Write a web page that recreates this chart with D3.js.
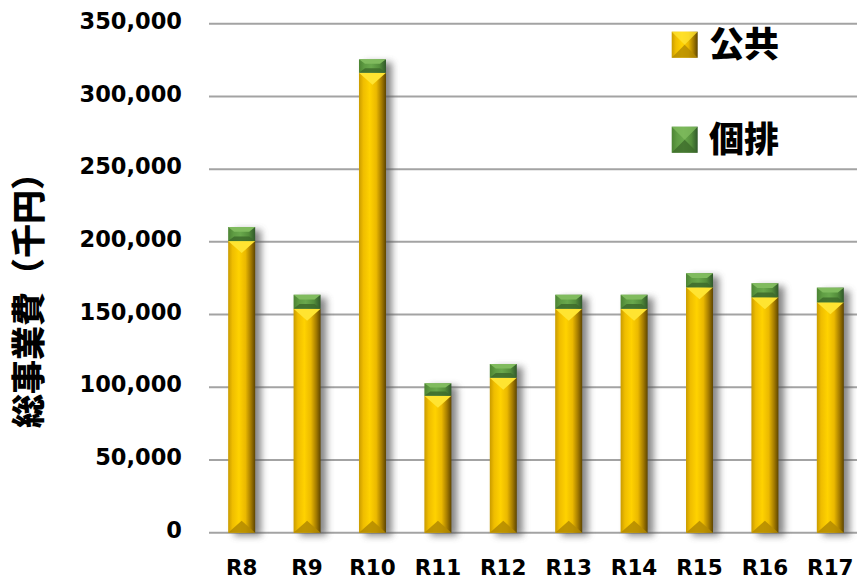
<!DOCTYPE html>
<html>
<head>
<meta charset="utf-8">
<script src="https://cdn.jsdelivr.net/npm/d3@7"></script>
<style>
  html, body { margin: 0; padding: 0; background: #fff; }
  svg { display: block; }
</style>
</head>
<body>
<svg id="chart" width="857" height="585"></svg>
<script>
// Fiscal years (Reiwa)
const years = ["R8", "R9", "R10", "R11", "R12", "R13", "R14", "R15", "R16", "R17"];
// 公共 (public works) and 個排 (individual septic) totals, thousand yen
const koukyou = [200500, 154000, 316300, 94200, 106600, 154000, 154000, 168700, 161900, 158400];
const kohai   = [9700, 9600, 9200, 8500, 9400, 9600, 9600, 9700, 9600, 10100];
const yTicks = [0, 50000, 100000, 150000, 200000, 250000, 300000, 350000];
const seriesNames = ["公共", "個排"];
const yTitle = "総事業費（千円）";

const svg = d3.select("#chart");
const W = 857, H = 585;
const plot = { left: 209, right: 863, top: 23.7, bottom: 532.7 };

const x = d3.scaleBand().domain(years).range([plot.left, plot.right]).paddingInner(0.587).paddingOuter(0.293);
const y = d3.scaleLinear().domain([0, 350000]).range([plot.bottom, plot.top]);

const defs = svg.append("defs");

function hGrad(id, stops) {
  const g = defs.append("linearGradient").attr("id", id)
    .attr("x1", "0%").attr("x2", "100%").attr("y1", "0%").attr("y2", "0%");
  stops.forEach(([o, c]) => g.append("stop").attr("offset", o).attr("stop-color", c));
}
hGrad("gold", [["0%", "#c99b00"], ["16%", "#efbd00"], ["40%", "#ffd200"], ["64%", "#ebb900"], ["84%", "#a47b00"], ["100%", "#5e4500"]]);
hGrad("green", [["0%", "#4c8433"], ["20%", "#5f9c43"], ["45%", "#69a84c"], ["75%", "#558f3c"], ["100%", "#30582a"]]);

const shadow = defs.append("filter").attr("id", "shadow")
  .attr("x", "-50%").attr("y", "-10%").attr("width", "200%").attr("height", "120%");
shadow.append("feGaussianBlur").attr("stdDeviation", 3.5);

// gridlines
svg.append("g").selectAll("line").data(yTicks).join("line")
  .attr("x1", plot.left).attr("x2", W)
  .attr("y1", d => y(d)).attr("y2", d => y(d))
  .attr("stroke", "#a3a3a3").attr("stroke-width", 2);

// y tick labels
svg.append("g").selectAll("text").data(yTicks).join("text")
  .attr("x", 182).attr("y", d => y(d) - 3)
  .attr("dy", "0.36em")
  .attr("text-anchor", "end")
  .attr("font-family", "DejaVu Sans, Verdana, sans-serif")
  .attr("font-weight", "bold").attr("font-size", 22.5)
  .attr("fill", "#000")
  .text(d3.format(","));

// x labels
svg.append("g").selectAll("text").data(years).join("text")
  .attr("x", d => x(d) + x.bandwidth() / 2).attr("y", 567)
  .attr("dy", "0.36em")
  .attr("text-anchor", "middle")
  .attr("font-family", "DejaVu Sans, Verdana, sans-serif")
  .attr("font-weight", "bold").attr("font-size", 21.5)
  .attr("fill", "#000")
  .text(d => d);

// y title
svg.append("text")
  .attr("transform", "translate(29,292) rotate(-90)")
  .attr("dy", "0.36em")
  .attr("text-anchor", "middle")
  .attr("font-family", "Noto Sans CJK JP, sans-serif")
  .attr("font-weight", 900).attr("font-size", 34)
  .attr("fill", "#000")
  .text(yTitle);

const stacks = years.map((yr, i) => ({
  year: yr,
  segs: [
    { key: 0, y0: 0, y1: koukyou[i] },
    { key: 1, y0: koukyou[i], y1: koukyou[i] + kohai[i] }
  ]
}));

const bars = svg.append("g");
const palette = [
  { fill: "url(#gold)", top: "#ffe431", bottom: "#b38a00" },
  { fill: "url(#green)", top: "#80bb5e", bottom: "#3d6b2b" }
];

// soft shadow behind each column
bars.selectAll("rect.sh").data(stacks).join("rect").attr("class", "sh")
  .attr("x", d => x(d.year) + 6).attr("width", x.bandwidth())
  .attr("y", d => y(d.segs[1].y1) + 3)
  .attr("height", d => plot.bottom - y(d.segs[1].y1))
  .attr("fill", "#555").attr("opacity", 0.7)
  .attr("filter", "url(#shadow)");

function bevelSeg(g, x0, w, yTop, yBot, pal, bx, by) {
  const h = yBot - yTop;
  g.append("rect").attr("x", x0).attr("y", yTop).attr("width", w).attr("height", h).attr("fill", pal.fill);
  const topPts = [[x0, yTop], [x0 + w, yTop], [x0 + w - bx, yTop + by], [x0 + bx, yTop + by]];
  const botPts = [[x0, yBot], [x0 + w, yBot], [x0 + w - bx, yBot - by], [x0 + bx, yBot - by]];
  g.append("polygon").attr("points", topPts.map(p => p.join(",")).join(" ")).attr("fill", pal.top);
  g.append("polygon").attr("points", botPts.map(p => p.join(",")).join(" ")).attr("fill", pal.bottom).attr("opacity", 0.85);
}

stacks.forEach(s => {
  const g = bars.append("g");
  const w = x.bandwidth(), x0 = x(s.year);
  s.segs.forEach(seg => {
    const yTop = y(seg.y1), yBot = y(seg.y0);
    const h = yBot - yTop;
    if (seg.key === 0) {
      bevelSeg(g, x0, w, yTop, yBot, palette[0], w / 2, Math.min(12, h / 2));
    } else {
      bevelSeg(g, x0, w, yTop, yBot, palette[1], 6, Math.min(5, h / 3));
    }
  });
});

// legend
const legend = svg.append("g");
const legendItems = [
  { name: seriesNames[0], pal: palette[0], y: 31.7 },
  { name: seriesNames[1], pal: palette[1], y: 126.7 }
];
legendItems.forEach(it => {
  const s = 26, lx = 671.7;
  const g = legend.append("g");
  g.append("rect").attr("x", lx).attr("y", it.y).attr("width", s).attr("height", s).attr("fill", it.pal.fill);
  const c = [lx + s / 2, it.y + s / 2];
  g.append("polygon").attr("points", [[lx, it.y], [lx + s, it.y], c].map(p => p.join(",")).join(" ")).attr("fill", it.pal.top).attr("opacity", 0.8);
  g.append("polygon").attr("points", [[lx, it.y + s], [lx + s, it.y + s], c].map(p => p.join(",")).join(" ")).attr("fill", it.pal.bottom).attr("opacity", 0.8);
  g.append("text")
    .attr("x", 709).attr("y", it.y + s / 2)
    .attr("dy", "0.36em")
    .attr("font-family", "Noto Sans CJK JP, sans-serif")
    .attr("font-weight", 900).attr("font-size", 35)
    .attr("fill", "#000")
    .text(it.name);
});
</script>
</body>
</html>
